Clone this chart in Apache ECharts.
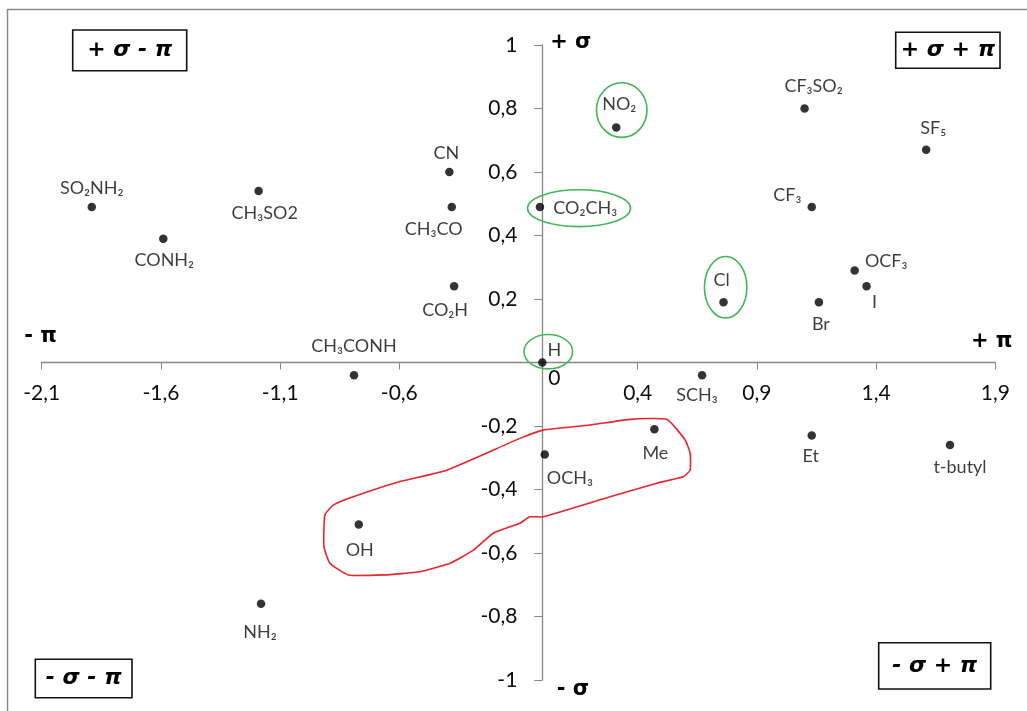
<!DOCTYPE html>
<html><head><meta charset="utf-8">
<script src="https://cdn.jsdelivr.net/npm/echarts@6/dist/echarts.min.js"></script>
<style>html,body{margin:0;padding:0;background:#fff}#c{width:1027px;height:711px}</style>
</head><body><div id="c"></div>
<script>
// ---- data ----
const names = ['SO₂NH₂','CONH₂','CH₃SO2','CN','CH₃CO','CO₂H','CH₃CONH','OH','NH₂','NO₂','CO₂CH₃','CF₃SO₂','SF₅','CF₃','OCF₃','I','Br','Cl','H','SCH₃','Me','OCH₃','Et','t-butyl'];
const piValues    = [-1.89,-1.59,-1.19,-0.39,-0.38,-0.37,-0.79,-0.77,-1.18,0.31,-0.01,1.10,1.61,1.13,1.31,1.36,1.16,0.76,0,0.67,0.47,0.01,1.13,1.71];
const sigmaValues = [0.49,0.39,0.54,0.60,0.49,0.24,-0.04,-0.51,-0.76,0.74,0.49,0.80,0.67,0.49,0.29,0.24,0.19,0.19,0,-0.04,-0.21,-0.29,-0.23,-0.26];
const xTickLabels = [-2.1,-1.6,-1.1,-0.6,0.4,0.9,1.4,1.9];
const yTickLabels = [-1,-0.8,-0.6,-0.4,-0.2,0.2,0.4,0.6,0.8,1];
const quadrantTexts = ['+ σ - π','+ σ + π','- σ - π','- σ + π'];
const axisEndTexts = ['+ σ','- σ','- π','+ π'];
// annotation shapes in data units
const greenEllipses = [ // [cx, cy, rx, ry]
  [0.333,0.795,0.106,0.086],
  [0.154,0.486,0.216,0.058],
  [0.769,0.237,0.089,0.097],
  [0.025,0.034,0.102,0.054]
];
const redOutline = [[-0.094,-0.239],[-0.401,-0.339],[-0.597,-0.375],[-0.793,-0.423],[-0.877,-0.449],[-0.912,-0.480],[-0.916,-0.580],[-0.891,-0.632],[-0.814,-0.669],[-0.667,-0.669],[-0.513,-0.659],[-0.387,-0.632],[-0.289,-0.591],[-0.206,-0.538],[-0.094,-0.506],[-0.052,-0.486],[0.004,-0.486],[0.284,-0.423],[0.480,-0.380],[0.591,-0.360],[0.620,-0.339],[0.620,-0.286],[0.599,-0.244],[0.522,-0.179],[0.368,-0.179],[0.200,-0.197],[0.004,-0.213]];

// ---- label placement (style, not data) ----
const place = {
 'SO₂NH₂':{offset:[0,-19]}, 'CONH₂':{offset:[1,22]}, 'CH₃SO2':{offset:[6,22]}, 'CN':{offset:[-3,-19]},
 'CH₃CO':{offset:[-18,22]}, 'CO₂H':{offset:[-9,24]}, 'CH₃CONH':{offset:[0,-29]}, 'OH':{offset:[1,26]},
 'NH₂':{offset:[-1,28]}, 'NO₂':{offset:[3,-23]}, 'CO₂CH₃':{position:'right',distance:9,offset:[0,1]},
 'CF₃SO₂':{offset:[9,-22]}, 'SF₅':{offset:[7,-22]}, 'CF₃':{position:'left',distance:6,offset:[0,-12]},
 'OCF₃':{position:'right',distance:6,offset:[0,-9]}, 'I':{offset:[8,16]}, 'Br':{offset:[2,22]},
 'Cl':{offset:[-2,-22]}, 'H':{offset:[12,-12]}, 'SCH₃':{offset:[-5,20]}, 'Me':{offset:[1,24]},
 'OCH₃':{align:'left',offset:[2,24]}, 'Et':{offset:[-1,21]}, 't-butyl':{offset:[10,22]}
};
const FONT = 'Lato, "Open Sans", "DejaVu Sans", sans-serif';
const TEXT = '#0d0d0d';
const fmt = v => String(Math.round(v*10)/10).replace('.',',');

const data = names.map((n,i)=>{
  const p = place[n] || {};
  return {name:n, value:[piValues[i], sigmaValues[i]],
    label:{position:p.position||'inside', distance:p.distance||5, offset:p.offset||[0,0], align:p.align}};
});

// layout
const W = 1027, H = 711;
const G = {left:41.7, right:31.7, top:45, bottom:31};
const xMin=-2.1, xMax=1.9, yMin=-1, yMax=1;
const plotW = W-G.left-G.right, plotH = H-G.top-G.bottom;
const xAxisShift = -plotH*(0-yMin)/(yMax-yMin);   // move x axis up to sigma = 0
const yAxisShift = -plotW*(0-xMin)/(xMax-xMin);   // move y axis right to pi = 0

const chart = echarts.init(document.getElementById('c'), null, {renderer:'canvas'});
const axisLineStyle = {onZero:false, lineStyle:{color:'#878787', width:1.3}};
chart.setOption({
  animation:false,
  backgroundColor:'#fff',
  grid:{left:G.left, right:G.right, top:G.top, bottom:G.bottom, outerBoundsMode:'none', containLabel:false},
  xAxis:{type:'value', min:xMin, max:xMax, interval:0.5, position:'bottom', offset:xAxisShift,
    axisLine:axisLineStyle, splitLine:{show:false},
    axisTick:{customValues:xTickLabels, length:7, lineStyle:{color:'#878787'}},
    axisLabel:{customValues:xTickLabels, formatter:fmt, margin:20, color:TEXT, fontSize:21, fontFamily:FONT}
  },
  yAxis:{type:'value', min:yMin, max:yMax, interval:0.2, position:'left', offset:yAxisShift,
    axisLine:axisLineStyle, splitLine:{show:false},
    axisTick:{length:8, lineStyle:{color:'#878787'}},
    axisLabel:{customValues:yTickLabels, formatter:fmt, margin:25, color:TEXT, fontSize:21, fontFamily:FONT}
  },
  series:[{
    type:'scatter', data:data, symbol:'circle', symbolSize:8.5,
    itemStyle:{color:'#000000'},
    label:{show:true, formatter:'{b}', color:TEXT, fontSize:18, fontFamily:FONT},
    z:5
  }]
});

function drawAnnotations(){
  const toPx = (p)=>chart.convertToPixel({gridIndex:0}, p);
  const g = [];
  g.push({type:'rect', shape:{x:7.5, y:9.5, width:1040, height:720}, style:{fill:null, stroke:'#8c8c8c', lineWidth:1.5}, z:0, silent:true});
  greenEllipses.forEach(e=>{
    const c = toPx([e[0],e[1]]);
    const rx = toPx([e[0]+e[2], e[1]])[0]-c[0];
    const ry = c[1]-toPx([e[0], e[1]+e[3]])[1];
    g.push({type:'ellipse', shape:{cx:c[0], cy:c[1], rx:rx, ry:ry}, style:{fill:null, stroke:'#45b55a', lineWidth:1.6}, z:10, silent:true});
  });
  g.push({type:'polygon', shape:{points:redOutline.map(toPx), smooth:0.15}, style:{fill:null, stroke:'#e8252b', lineWidth:1.6}, z:10, silent:true});
  const o = toPx([0,0]);
  g.push({type:'text', x:o[0]+12, y:o[1]+16, style:{text:'0', font:'21px '+FONT, fill:TEXT, align:'center', verticalAlign:'middle'}, z:10});
  const boxes = [[72.7,30,114,40.7],[895.7,32.3,104.3,36],[35.3,659.3,96.7,38.4],[878.7,642.7,112,46.3]];
  boxes.forEach((b,i)=>{
    g.push({type:'rect', shape:{x:b[0], y:b[1], width:b[2], height:b[3]}, style:{fill:'#fff', stroke:'#111', lineWidth:1.6}, z:10});
    g.push({type:'text', x:b[0]+b[2]/2, y:b[1]+b[3]/2, style:{text:quadrantTexts[i], font:'italic bold 22px "DejaVu Sans", sans-serif', fill:'#000', align:'center', verticalAlign:'middle'}, z:11});
  });
  const ends = [[570.8,43],[573,690],[40.5,337],[991.7,341.7]];
  ends.forEach((p,i)=>{
    g.push({type:'text', x:p[0], y:p[1], style:{text:axisEndTexts[i], font:'bold 21px "DejaVu Sans", sans-serif', fill:'#000', align:'center', verticalAlign:'middle'}, z:11});
  });
  chart.setOption({graphic:g});
}
drawAnnotations();
</script>
</body></html>
